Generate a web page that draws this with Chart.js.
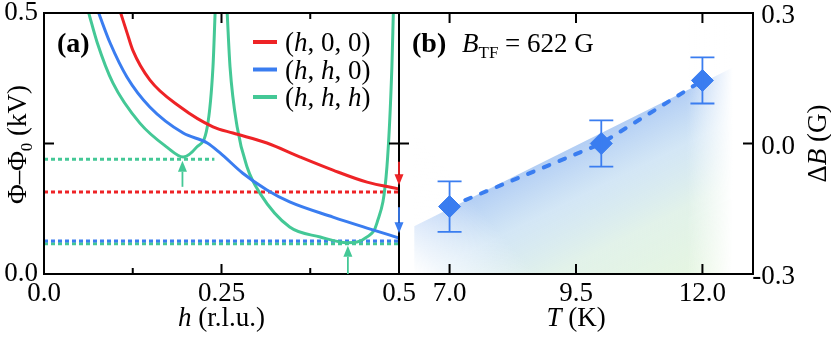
<!DOCTYPE html>
<html>
<head>
<meta charset="utf-8">
<script src="https://cdn.jsdelivr.net/npm/chart.js@4.4.1/dist/chart.umd.min.js"></script>
<style>
  html, body { margin: 0; padding: 0; background: #fff; }
  #fontwarm { position: absolute; left: 0; top: 0; font-family: 'Liberation Serif'; font-size: 22px; color: #fff; white-space: nowrap; }
  #wrap { position: relative; width: 831px; height: 338px; overflow: hidden; }
  #chartA { position: absolute; left: 0; top: 0; }
  #chartB { position: absolute; left: 380px; top: 0; }
</style>
</head>
<body>
<div id="fontwarm">0.25 (h, 0, 0) <i>h B T</i> <b>(a)</b> Φ Δ</div>
<div id="wrap">
  <canvas id="chartA" width="440" height="338"></canvas>
  <canvas id="chartB" width="451" height="338"></canvas>
</div>
<script>
// panel (a): potential vs h
const hRed = [0.108, 0.117, 0.125, 0.149, 0.192, 0.238, 0.266, 0.314, 0.361, 0.407, 0.455, 0.5];
const phiRed = [0.5, 0.462, 0.429, 0.372, 0.32, 0.282, 0.27, 0.251, 0.224, 0.199, 0.176, 0.163];

const hBlue = [0.077, 0.093, 0.117, 0.149, 0.196, 0.23, 0.248, 0.28, 0.314, 0.346, 0.407, 0.455, 0.5];
const phiBlue = [0.5, 0.443, 0.377, 0.32, 0.27, 0.251, 0.232, 0.193, 0.161, 0.138, 0.109, 0.088, 0.069];

const hGreen1 = [0.063, 0.075, 0.097, 0.135, 0.173, 0.196, 0.215, 0.23, 0.238, 0.241];
const phiGreen1 = [0.5, 0.443, 0.366, 0.289, 0.243, 0.224, 0.243, 0.282, 0.397, 0.5];

const hGreen2 = [0.258, 0.262, 0.272, 0.286, 0.304, 0.346, 0.389, 0.427, 0.455, 0.469, 0.483, 0.49, 0.492];
const phiGreen2 = [0.5, 0.397, 0.282, 0.205, 0.155, 0.09, 0.071, 0.06, 0.071, 0.098, 0.205, 0.397, 0.5];

// dotted minimum levels: red, blue, green, green (local)
const levelPhi = [0.157, 0.063, 0.058, 0.22];
const levelEnd = [0.5, 0.5, 0.5, 0.24];

// arrows marking the minima
const arrowH = [0.195, 0.428, 0.5, 0.5];
const arrowFrom = [0.167, 0.0, 0.215, 0.128];
const arrowTo = [0.217, 0.054, 0.17, 0.078];

const legendText = ["(h, 0, 0)", "(h, h, 0)", "(h, h, h)"];

const ticksAX = [0, 0.125, 0.25, 0.375, 0.5];
const labelsAX = ["0.0", "", "0.25", "", "0.5"];
const ticksAY = [0, 0.25, 0.5];
const labelsAY = ["0.0", "", "0.5"];

// panel (b): field shift vs temperature
const tempK = [7, 10, 12];
const deltaB = [-0.145, 0.0, 0.145];
const deltaBErr = [0.058, 0.053, 0.053];
const bandT = [6.3, 12.6];
const bandTop = [-0.19, 0.175];

const ticksBX = [7, 9.5, 12];
const labelsBX = ["7.0", "9.5", "12.0"];
const ticksBY = [-0.3, 0, 0.3];
const labelsBY = ["-0.3", "0.0", "0.3"];

const RED = "#ee2326";
const BLUE = "#3a7df0";
const GREEN = "#44c896";
const SERIF = '"Liberation Serif"';
const FS = 27;

const pts = (xs, ys) => xs.map((v, i) => ({ x: v, y: ys[i] }));

function drawRich(ctx, runs, x, y, size, align) {
  const fontOf = (r) =>
    (r.i ? "italic " : "") + (r.b ? "bold " : "") +
    Math.round(r.sub ? size * 0.62 : size) + "px " + SERIF;
  let w = 0;
  const widths = runs.map((r) => {
    ctx.font = fontOf(r);
    const rw = ctx.measureText(r.t).width;
    w += rw;
    return rw;
  });
  let cx = align === "center" ? x - w / 2 : align === "right" ? x - w : x;
  ctx.textAlign = "left";
  ctx.textBaseline = "alphabetic";
  runs.forEach((r, i) => {
    ctx.font = fontOf(r);
    ctx.fillText(r.t, cx, y + (r.sub ? size * 0.24 : 0));
    cx += widths[i];
  });
}

// "(h, h, 0)" -> runs with italic h
const italicH = (s) => s.split("").map((c) => ({ t: c, i: c === "h" }));

function inwardTicks(ctx, a, xs, ys, isMajor) {
  ctx.strokeStyle = "#000";
  ctx.lineWidth = 2;
  ctx.beginPath();
  xs.ticks.forEach((t) => {
    const p = xs.getPixelForValue(t.value);
    if (p < a.left + 2 || p > a.right - 2) return;
    const L = isMajor(t.value) ? 10 : 6;
    ctx.moveTo(p, a.bottom); ctx.lineTo(p, a.bottom - L);
    ctx.moveTo(p, a.top); ctx.lineTo(p, a.top + L);
  });
  ys.ticks.forEach((t) => {
    const p = ys.getPixelForValue(t.value);
    if (p < a.top + 2 || p > a.bottom - 2) return;
    ctx.moveTo(a.left, p); ctx.lineTo(a.left + 10, p);
    ctx.moveTo(a.right, p); ctx.lineTo(a.right - 10, p);
  });
  ctx.stroke();
}

function drawArrow(ctx, x, y0, y1, color) {
  const dir = y1 > y0 ? 1 : -1;
  const head = 11;
  ctx.strokeStyle = color;
  ctx.fillStyle = color;
  ctx.lineWidth = 1.8;
  ctx.beginPath();
  ctx.moveTo(x, y0);
  ctx.lineTo(x, y1 - dir * head);
  ctx.stroke();
  ctx.beginPath();
  ctx.moveTo(x, y1);
  ctx.lineTo(x - 4.5, y1 - dir * head);
  ctx.lineTo(x + 4.5, y1 - dir * head);
  ctx.closePath();
  ctx.fill();
}

const panelA = {
  id: "panelA",
  afterDraw(chart) {
    const { ctx, chartArea: a, scales } = chart;
    const { x, y } = scales;
    ctx.save();
    ctx.strokeStyle = "#000";
    ctx.lineWidth = 2;
    ctx.strokeRect(a.left, a.top, a.right - a.left, a.bottom - a.top);
    const major = (v) => Math.abs(v / 0.25 - Math.round(v / 0.25)) < 1e-6;
    inwardTicks(ctx, a, x, y, major);

    const arrowColors = [GREEN, GREEN, RED, BLUE];
    arrowH.forEach((h, i) => {
      drawArrow(ctx, x.getPixelForValue(h), y.getPixelForValue(arrowFrom[i]),
        y.getPixelForValue(arrowTo[i]), arrowColors[i]);
    });

    // legend
    const legendColors = [RED, BLUE, GREEN];
    legendText.forEach((s, i) => {
      const cy = a.top + 29 + i * 27.5;
      ctx.strokeStyle = legendColors[i];
      ctx.lineWidth = 4;
      ctx.beginPath();
      ctx.moveTo(a.left + 209, cy);
      ctx.lineTo(a.left + 233, cy);
      ctx.stroke();
      ctx.fillStyle = "#000";
      drawRich(ctx, italicH(s), a.left + 241, cy + 9, FS, "left");
    });

    ctx.fillStyle = "#000";
    drawRich(ctx, [{ t: "(a)", b: true }], a.left + 13, a.top + 39, 28, "left");
    drawRich(ctx, [{ t: "h", i: true }, { t: " (r.l.u.)" }], (a.left + a.right) / 2, 326, FS, "center");

    ctx.translate(17, (a.top + a.bottom) / 2 + 1);
    ctx.rotate(-Math.PI / 2);
    drawRich(ctx, [{ t: "\u03A6\u2013\u03A6" }, { t: "0", sub: true }, { t: " (kV)" }], 0, 9, FS, "center");
    ctx.restore();
  },
};

const curve = (data, color) => ({
  data, borderColor: color, borderWidth: 3, pointRadius: 0,
  cubicInterpolationMode: "monotone", order: 0,
});
const levelColors = [RED, BLUE, GREEN, GREEN];
const levels = levelPhi.map((v, i) => ({
  data: [{ x: 0, y: v }, { x: levelEnd[i], y: v }],
  borderColor: levelColors[i], borderWidth: 3, borderDash: [4, 3],
  pointRadius: 0, order: 1,
}));

const tickFont = { family: SERIF, size: FS };

// ---------- panel (b) ----------
function bandFill(c) {
  const chart = c.chart;
  if (!chart.chartArea) return "rgba(0,0,0,0)";
  const { x, y } = chart.scales;
  const x0 = x.getPixelForValue(bandT[0]), y0 = y.getPixelForValue(bandTop[0]);
  const x1 = x.getPixelForValue(bandT[1]), y1 = y.getPixelForValue(bandTop[1]);
  const mx = (x0 + x1) / 2, my = (y0 + y1) / 2;
  let nx = -(y1 - y0), ny = x1 - x0;
  const n = Math.hypot(nx, ny);
  nx /= n; ny /= n;
  const L = 190;
  const g = chart.ctx.createLinearGradient(mx, my, mx + nx * L, my + ny * L);
  g.addColorStop(0, "rgba(132,176,238,0.62)");
  g.addColorStop(0.25, "rgba(168,206,236,0.5)");
  g.addColorStop(0.55, "rgba(208,234,220,0.62)");
  g.addColorStop(1, "rgba(226,246,214,0.8)");
  return g;
}

const panelB = {
  id: "panelB",
  afterDatasetDraw(chart, args) {
    if (args.index !== 1) return;
    const { ctx, chartArea: a } = chart;
    const { x } = chart.scales;
    const l0 = x.getPixelForValue(bandT[0]);
    const r0 = x.getPixelForValue(11.7), r1 = x.getPixelForValue(bandT[1]);
    ctx.save();
    // soft left edge, whiter toward the bottom
    const gl = ctx.createLinearGradient(l0, a.bottom, l0 + 70, a.bottom - 60);
    gl.addColorStop(0, "rgba(255,255,255,1)");
    gl.addColorStop(0.25, "rgba(255,255,255,0.7)");
    gl.addColorStop(1, "rgba(255,255,255,0)");
    ctx.fillStyle = gl;
    ctx.fillRect(l0 - 1, a.top, 140, a.bottom - a.top);
    // soft right edge
    const gr = ctx.createLinearGradient(r0, 0, r1, 0);
    gr.addColorStop(0, "rgba(255,255,255,0)");
    gr.addColorStop(1, "rgba(255,255,255,1)");
    ctx.fillStyle = gr;
    ctx.fillRect(r0, a.top, r1 - r0 + 1, a.bottom - a.top);
    ctx.restore();
  },
  afterDatasetsDraw(chart) {
    const { ctx } = chart;
    const { x, y } = chart.scales;
    ctx.save();
    ctx.strokeStyle = BLUE;
    ctx.lineWidth = 1.8;
    ctx.beginPath();
    tempK.forEach((t, i) => {
      const px = x.getPixelForValue(t);
      const top = y.getPixelForValue(deltaB[i] + deltaBErr[i]);
      const bot = y.getPixelForValue(deltaB[i] - deltaBErr[i]);
      ctx.moveTo(px, top); ctx.lineTo(px, bot);
      ctx.moveTo(px - 12, top); ctx.lineTo(px + 12, top);
      ctx.moveTo(px - 12, bot); ctx.lineTo(px + 12, bot);
    });
    ctx.stroke();
    ctx.restore();
  },
  afterDraw(chart) {
    const { ctx, chartArea: a } = chart;
    const { x, y } = chart.scales;
    ctx.save();
    ctx.strokeStyle = "#000";
    ctx.lineWidth = 2;
    ctx.beginPath();
    ctx.moveTo(a.left, a.top); ctx.lineTo(a.right, a.top);
    ctx.lineTo(a.right, a.bottom); ctx.lineTo(a.left, a.bottom);
    ctx.stroke();
    inwardTicks(ctx, a, x, y, () => true);

    ctx.fillStyle = "#000";
    // right-hand tick labels, "0.3" parts aligned
    y.ticks.forEach((t, i) => {
      drawRich(ctx, [{ t: labelsBY[i] }], a.right + 42, y.getPixelForValue(t.value) + 10, FS, "right");
    });

    drawRich(ctx, [{ t: "(b)", b: true }], a.left + 13, a.top + 39, 28, "left");
    drawRich(ctx, [{ t: "B", i: true }, { t: "TF", sub: true }, { t: " = 622 G" }], a.left + 63, a.top + 39, FS, "left");
    drawRich(ctx, [{ t: "T", i: true }, { t: " (K)" }], (a.left + a.right) / 2, 326, FS, "center");

    ctx.translate(chart.width - 14, (a.top + a.bottom) / 2);
    ctx.rotate(-Math.PI / 2);
    drawRich(ctx, [{ t: "\u0394" }, { t: "B", i: true }, { t: " (G)" }], 0, 9, FS, "center");
    ctx.restore();
  },
};

let chartA = null;
let chartB = null;

function build() {
  if (chartA) { chartA.destroy(); chartB.destroy(); }
  chartA = new Chart(document.getElementById("chartA"), {
    type: "line",
    data: {
      datasets: [
        curve(pts(hRed, phiRed), RED),
        curve(pts(hBlue, phiBlue), BLUE),
        curve(pts(hGreen1, phiGreen1), GREEN),
        curve(pts(hGreen2, phiGreen2), GREEN),
        ...levels,
      ],
    },
    options: {
      responsive: false,
      animation: false,
      layout: { padding: { left: 0, right: 41, top: 13, bottom: 0 } },
      plugins: { legend: { display: false }, tooltip: { enabled: false } },
      scales: {
        x: {
          type: "linear", min: 0, max: 0.5,
          grid: { display: false, drawTicks: false },
          border: { display: false },
          afterBuildTicks: (s) => { s.ticks = ticksAX.map((v) => ({ value: v })); },
          afterFit: (s) => { s.height = 64; s.paddingLeft = 0; s.paddingRight = 0; },
          ticks: {
            autoSkip: false, maxRotation: 0, padding: 4, color: "#000", font: tickFont,
            callback: (v, i) => labelsAX[i],
          },
        },
        y: {
          min: 0, max: 0.5,
          grid: { display: false, drawTicks: false },
          border: { display: false },
          afterBuildTicks: (s) => { s.ticks = ticksAY.map((v) => ({ value: v })); },
          afterFit: (s) => { s.width = 44; s.paddingTop = 0; s.paddingBottom = 0; },
          ticks: {
            autoSkip: false, padding: 6, color: "#000", font: tickFont,
            callback: (v, i) => labelsAY[i],
          },
        },
      },
    },
    plugins: [panelA],
  });

  chartB = new Chart(document.getElementById("chartB"), {
    type: "line",
    data: {
      datasets: [
        {
          data: pts(tempK, deltaB),
          borderColor: BLUE, borderWidth: 4, borderDash: [6, 11], borderCapStyle: "round",
          pointStyle: "rectRot", pointRadius: 11, pointBorderWidth: 1,
          pointBackgroundColor: BLUE, pointBorderColor: BLUE, tension: 0,
        },
        {
          data: pts(bandT, bandTop),
          borderWidth: 0, pointRadius: 0, fill: "start",
          backgroundColor: bandFill,
        },
      ],
    },
    options: {
      responsive: false,
      animation: false,
      layout: { padding: { left: 19, right: 0, top: 13, bottom: 0 } },
      plugins: { legend: { display: false }, tooltip: { enabled: false } },
      scales: {
        x: {
          type: "linear", min: 6, max: 13,
          grid: { display: false, drawTicks: false },
          border: { display: false },
          afterBuildTicks: (s) => { s.ticks = ticksBX.map((v) => ({ value: v })); },
          afterFit: (s) => { s.height = 64; s.paddingLeft = 0; s.paddingRight = 0; },
          ticks: {
            autoSkip: false, maxRotation: 0, padding: 4, color: "#000", font: tickFont,
            callback: (v, i) => labelsBX[i],
          },
        },
        y: {
          position: "right", min: -0.3, max: 0.3,
          grid: { display: false, drawTicks: false },
          border: { display: false },
          afterBuildTicks: (s) => { s.ticks = ticksBY.map((v) => ({ value: v })); },
          afterFit: (s) => { s.width = 78; s.paddingTop = 0; s.paddingBottom = 0; },
          ticks: { display: false },
        },
      },
    },
    plugins: [panelB],
  });
}

build();
document.fonts.ready.then(build);
window.addEventListener("load", build);
</script>
</body>
</html>
